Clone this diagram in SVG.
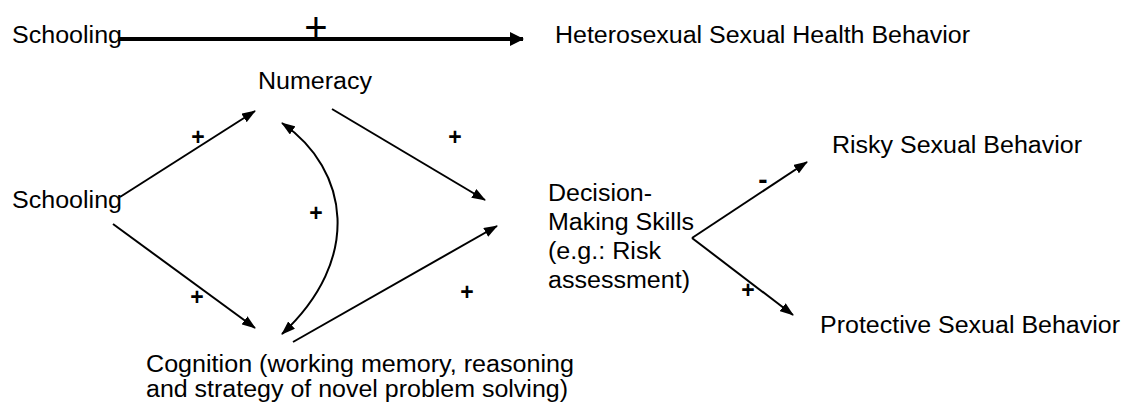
<svg xmlns="http://www.w3.org/2000/svg" width="1125" height="404" viewBox="0 0 1125 404">
  <style>
    text { font-family: "Liberation Sans", Arial, sans-serif; font-size: 23px; fill: #000; }
    .sign { font-size: 23px; font-weight: bold; text-anchor: middle; }
    .big { font-size: 40px; font-weight: normal; }
    .dash { font-size: 28px; }
    .edge { fill: none; stroke: #000; stroke-width: 2; }
    .thick { stroke-width: 4; }
  </style>
  <defs>
    <marker id="head" viewBox="0 0 14 10" refX="13" refY="5" markerWidth="14" markerHeight="10" markerUnits="userSpaceOnUse" orient="auto-start-reverse">
      <path d="M0,0 L14,5 L0,10 Z" fill="#000"/>
    </marker>
    <marker id="headBig" viewBox="0 0 14 14" refX="13" refY="7" markerWidth="14" markerHeight="14" markerUnits="userSpaceOnUse" orient="auto">
      <path d="M0,0 L14,7 L0,14 Z" fill="#000"/>
    </marker>
  </defs>

  <g id="connectors">
    <line class="edge thick" x1="118" y1="39" x2="523" y2="39" marker-end="url(#headBig)"/>
    <line class="edge" x1="120" y1="197" x2="255" y2="111" marker-end="url(#head)"/>
    <line class="edge" x1="332" y1="109" x2="485" y2="200" marker-end="url(#head)"/>
    <line class="edge" x1="113" y1="224" x2="255" y2="328" marker-end="url(#head)"/>
    <line class="edge" x1="293" y1="342" x2="497" y2="226" marker-end="url(#head)"/>
    <path class="edge" d="M282,123 C350,170 362,260 282,334" marker-start="url(#head)" marker-end="url(#head)"/>
    <line class="edge" x1="692" y1="238" x2="807" y2="162" marker-end="url(#head)"/>
    <line class="edge" x1="692" y1="238" x2="793" y2="315" marker-end="url(#head)"/>
    <text class="sign big" x="316" y="41">+</text>
    <text class="sign" x="198" y="145">+</text>
    <text class="sign" x="455" y="145">+</text>
    <text class="sign" x="197" y="305">+</text>
    <text class="sign" x="467" y="300">+</text>
    <text class="sign" x="316" y="221">+</text>
    <text class="sign dash" x="763" y="189">-</text>
    <text class="sign" x="748" y="298">+</text>
  </g>

  <g id="schooling-top"><text x="12" y="43" textLength="110" lengthAdjust="spacingAndGlyphs">Schooling</text></g>
  <g id="health-behavior"><text x="555" y="43" textLength="415" lengthAdjust="spacingAndGlyphs">Heterosexual Sexual Health Behavior</text></g>
  <g id="numeracy"><text x="258" y="89" textLength="114" lengthAdjust="spacingAndGlyphs">Numeracy</text></g>
  <g id="schooling"><text x="12" y="208" textLength="110" lengthAdjust="spacingAndGlyphs">Schooling</text></g>
  <g id="decision-making">
    <text x="548" y="201" textLength="104" lengthAdjust="spacingAndGlyphs">Decision-</text>
    <text x="548" y="230" textLength="146" lengthAdjust="spacingAndGlyphs">Making Skills</text>
    <text x="548" y="259" textLength="113" lengthAdjust="spacingAndGlyphs">(e.g.: Risk</text>
    <text x="548" y="288" textLength="142" lengthAdjust="spacingAndGlyphs">assessment)</text>
  </g>
  <g id="risky"><text x="832" y="153" textLength="250" lengthAdjust="spacingAndGlyphs">Risky Sexual Behavior</text></g>
  <g id="protective"><text x="820" y="333" textLength="300" lengthAdjust="spacingAndGlyphs">Protective Sexual Behavior</text></g>
  <g id="cognition">
    <text x="146" y="372" textLength="428" lengthAdjust="spacingAndGlyphs">Cognition (working memory, reasoning</text>
    <text x="146" y="397" textLength="422" lengthAdjust="spacingAndGlyphs">and strategy of novel problem solving)</text>
  </g>
</svg>
